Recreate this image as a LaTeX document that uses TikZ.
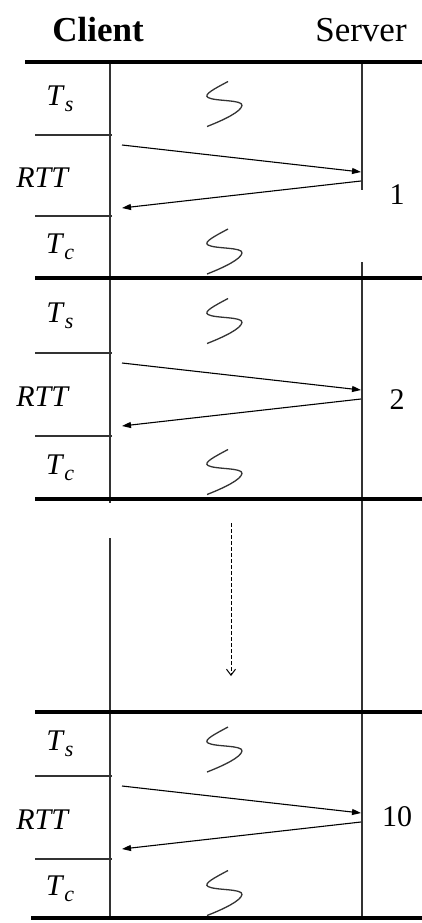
\documentclass[tikz,border=0pt]{standalone}
\usepackage{fontspec}
\setmainfont{Liberation Serif}
\usetikzlibrary{arrows.meta}
\newcommand{\tlab}[2]{\textit{#1}\raisebox{-0.45ex}{\fontsize{22}{22}\selectfont\textit{#2}}}

\begin{document}
\begin{tikzpicture}[x=1pt, y=-1pt,
    sep/.style={line width=4.5pt},
    life/.style={line width=1.2pt, black!80},
    msg/.style={line width=1.1pt, -{Triangle[length=9pt,width=6pt]}},
    wiggle/.style={line width=1.3pt, black!80},
    every node/.style={font=\fontsize{30}{32}\selectfont}]
  \useasboundingbox (0,0) rectangle (422,923);
  \node[font=\fontsize{35}{38}\selectfont\bfseries] (client) at (98,30) {Client};
  \node[font=\fontsize{35}{38}\selectfont] (server) at (361,30) {Server};
  % life lines
  \draw[life] (110,62) -- (110,503) (110,538) -- (110,918);
  \draw[life] (362,62) -- (362,190) (362,262) -- (362,918);
  % separators
  \draw[sep] (25,62) -- (422,62);
  \foreach \y/\xl in {278/35, 499/35, 712/35, 918/31}
    \draw[sep] (\xl,\y) -- (422,\y);
  \foreach \t/\a/\b/\e/\n/\k in {62/135/216/278/195/1, 278/353/436/499/400/2, 712/776/859/918/817/10} {
    \draw[life] (35,\a) -- (112,\a) (35,\b) -- (112,\b);
    \node (ts\k) at (60,{(\t+\a)/2}) {\tlab{T}{s}};
    \node (rtt\k) at (43,{(\a+\b)/2+2}) {\textit{RTT}};
    \node (tc\k) at (60,{(\b+\e)/2}) {\tlab{T}{c}};
    \coordinate (cs\k) at (122,\a+10);
    \coordinate (se\k) at (361,\a+37);
    \coordinate (ss\k) at (361,\a+46);
    \coordinate (ce\k) at (122,\a+73);
    \draw[msg] (cs\k) -- (se\k);
    \draw[msg] (ss\k) -- (ce\k);
    \node (n\k) at (397,\n) {\k};
    \pgfmathsetmacro\ya{(\t+\a)/2+5}
    \pgfmathsetmacro\yb{(\b+\e)/2+4}
    \foreach \c in {\ya,\yb}
      \draw[wiggle, shift={(225,\c)}] (3,-22) .. controls (-10,-15) and (-22,-9) .. (-17,-6)
        .. controls (-10,-2) and (18,-4) .. (17,2) .. controls (16,8) and (0,16) .. (-18,23);
  }
  \coordinate (dtop) at (231,523);
  \coordinate (dbot) at (231,676);
  \draw[line width=1pt, dash pattern=on 4pt off 2pt, -{Straight Barb[length=6pt,width=9pt]}] (dtop) -- (dbot);
\end{tikzpicture}
\end{document}
